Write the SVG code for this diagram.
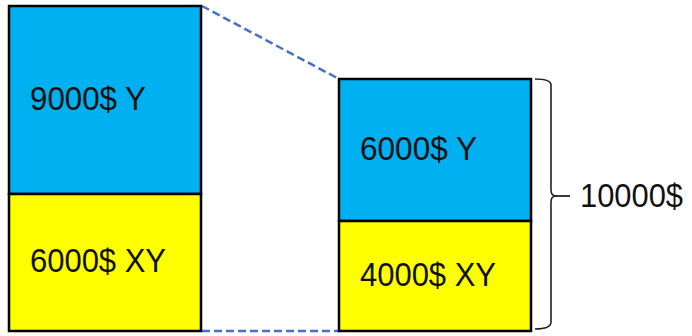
<svg xmlns="http://www.w3.org/2000/svg" width="692" height="336" viewBox="0 0 692 336">
<style>
.box{stroke:#000;stroke-width:2.5}
.blue{fill:#00B0F0}
.yel{fill:#FFFF00}
.lbl{font-family:"Liberation Sans",Arial,sans-serif;font-size:33px;fill:#111}
.dash{stroke:#4472C4;stroke-width:2.5;stroke-dasharray:8 4;fill:none}
</style>
<rect width="692" height="336" fill="#fff"/>
<g id="connectors">
<line class="dash" x1="202" y1="6" x2="339" y2="79"/>
<line class="dash" x1="202" y1="331" x2="339" y2="331"/>
</g>
<g id="left-top">
<rect class="box blue" x="9" y="6" width="192" height="188"/>
<text class="lbl" x="30" y="110" textLength="116" lengthAdjust="spacingAndGlyphs">9000$ Y</text>
</g>
<g id="left-bottom">
<rect class="box yel" x="9" y="194" width="192" height="137"/>
<text class="lbl" x="30" y="272" textLength="136" lengthAdjust="spacingAndGlyphs">6000$ XY</text>
</g>
<g id="right-top">
<rect class="box blue" x="339" y="79" width="192" height="142"/>
<text class="lbl" x="360" y="160" textLength="117" lengthAdjust="spacingAndGlyphs">6000$ Y</text>
</g>
<g id="right-bottom">
<rect class="box yel" x="339" y="221" width="192" height="110"/>
<text class="lbl" x="360" y="286" textLength="136" lengthAdjust="spacingAndGlyphs">4000$ XY</text>
</g>
<g id="brace">
<path d="M535,79 Q551,79 551,85 L551,190 Q551,196 556,196 Q551,196 551,202 L551,322 Q551,329 535,329" fill="none" stroke="#222" stroke-width="1.6"/>
<line x1="553" y1="196" x2="570" y2="196" stroke="#222" stroke-width="1.8"/>
<text class="lbl" x="580" y="207" textLength="103" lengthAdjust="spacingAndGlyphs">10000$</text>
</g>
</svg>
